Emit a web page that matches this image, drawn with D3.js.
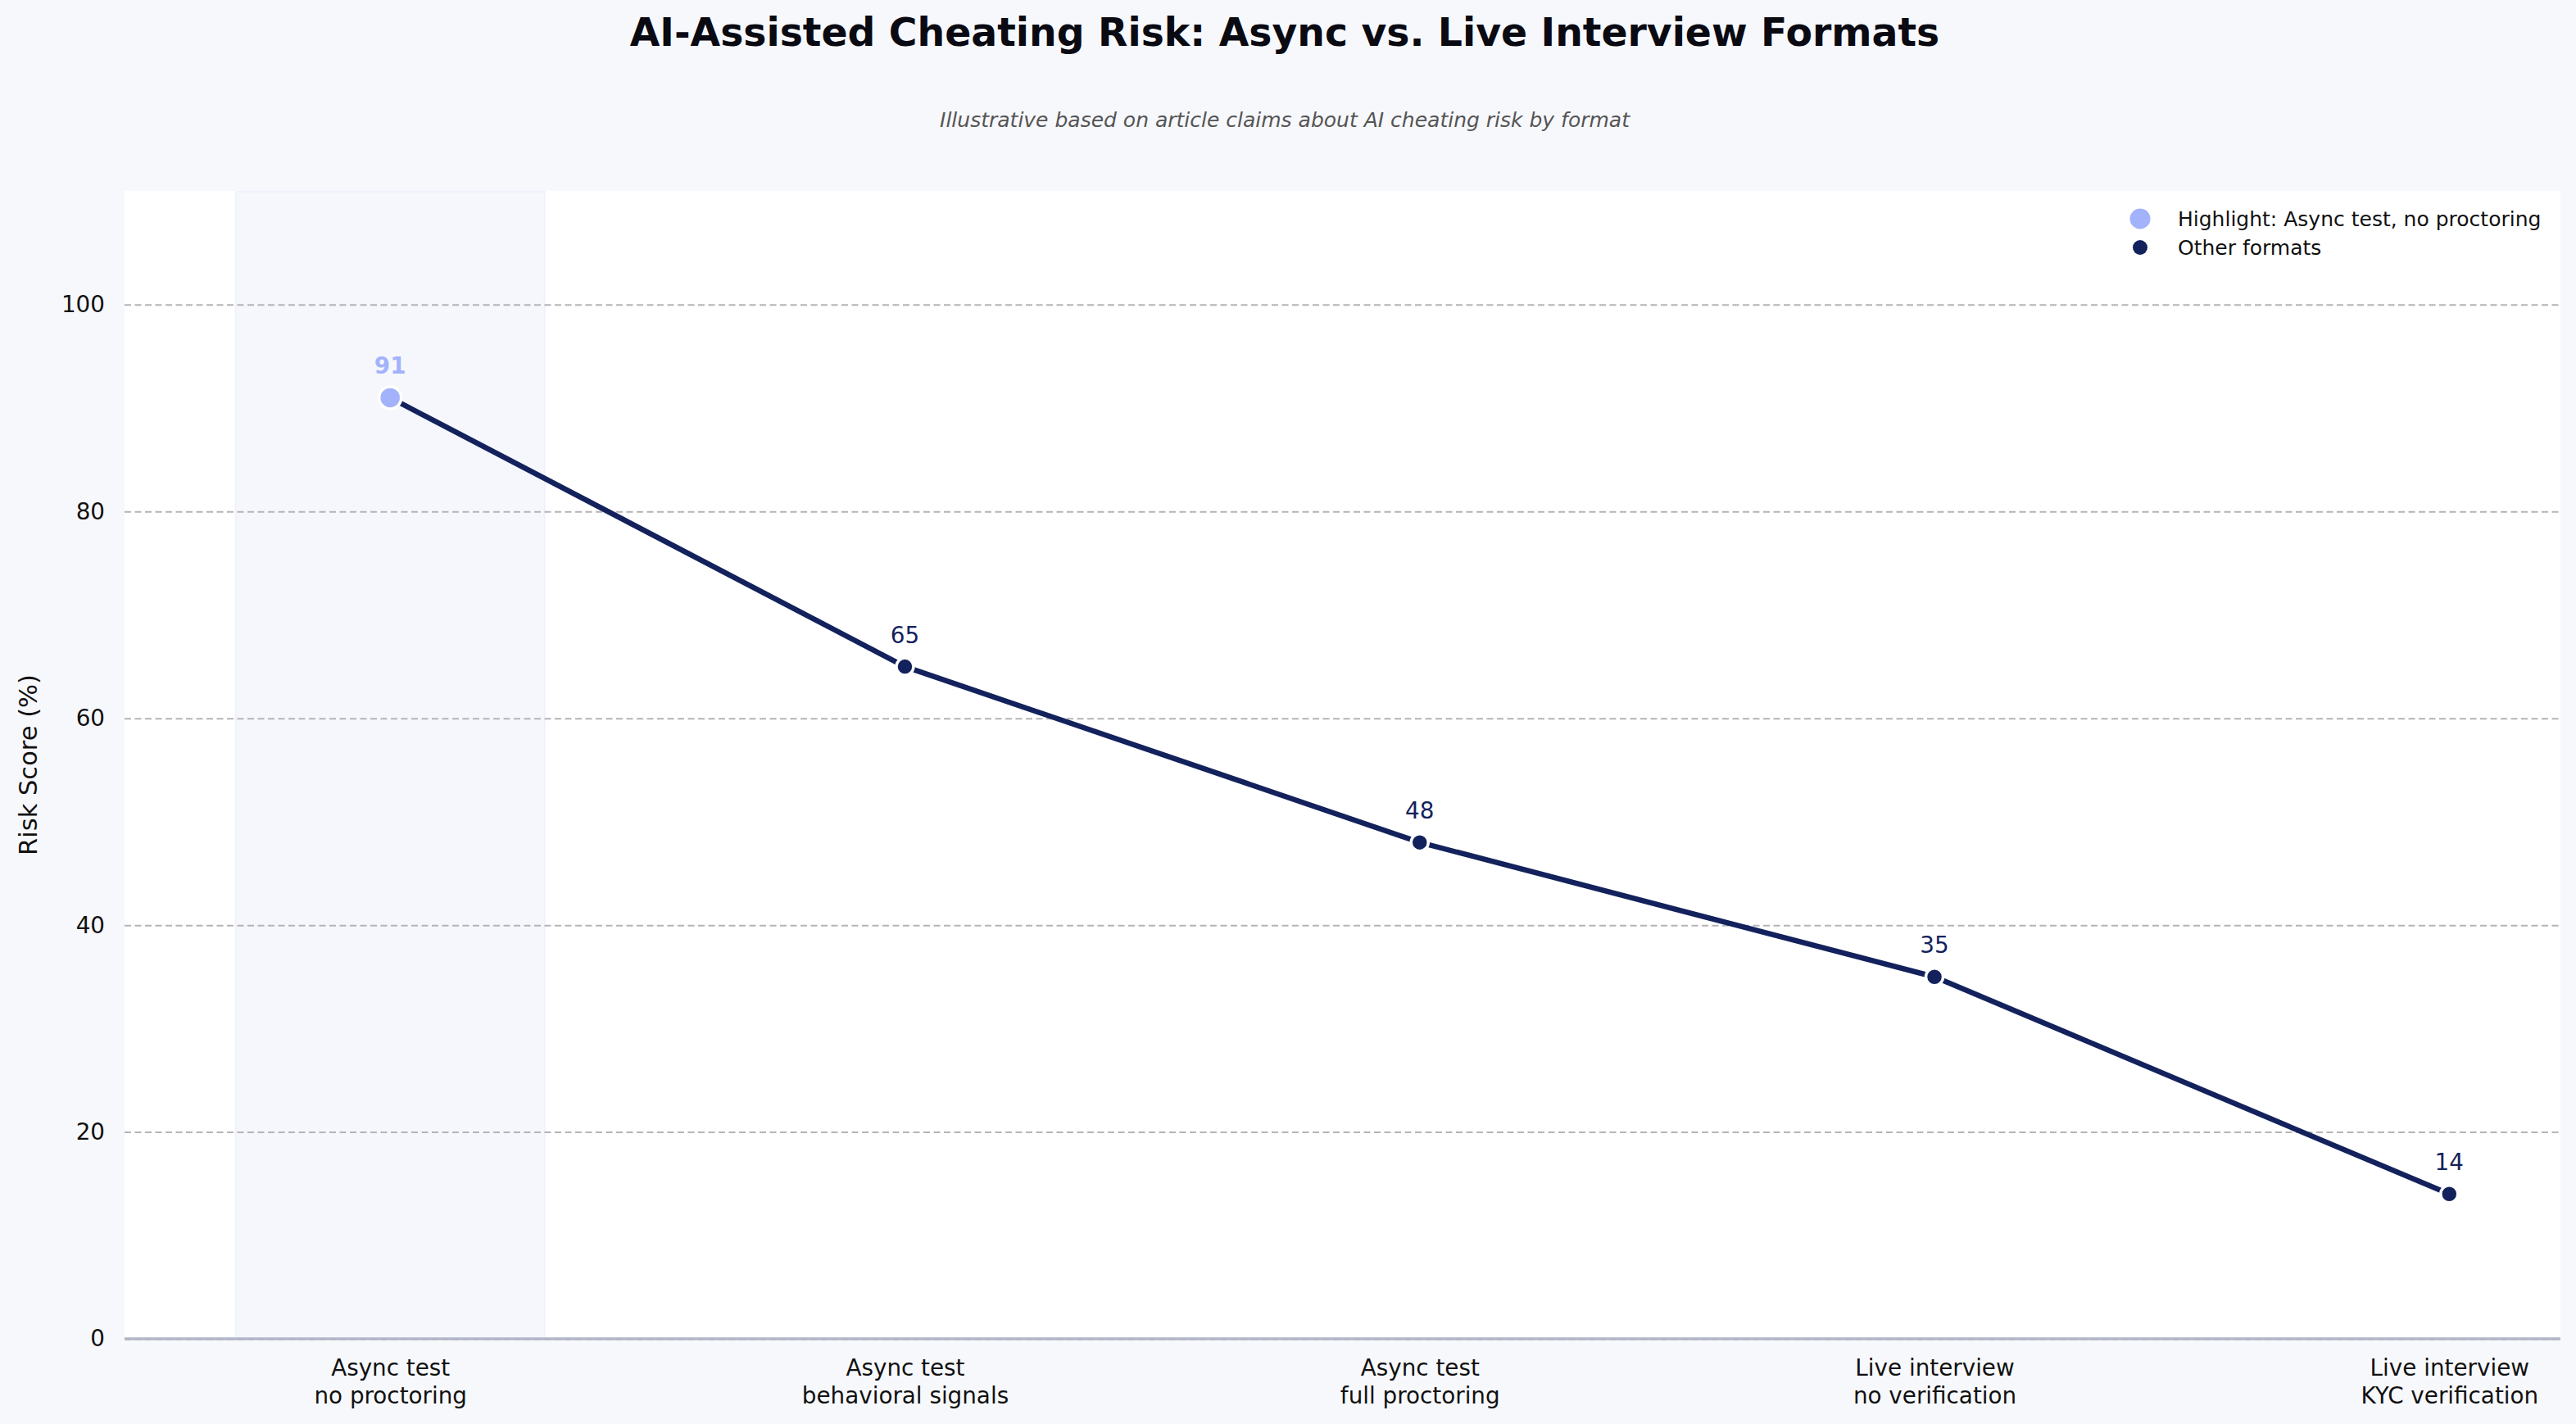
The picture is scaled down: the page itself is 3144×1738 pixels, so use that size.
<!DOCTYPE html>
<html>
<head>
<meta charset="utf-8">
<script src="https://cdn.jsdelivr.net/npm/d3@7"></script>
<style>
  body { margin: 0; background: #f7f8fc; }
  svg { display: block; font-family: "DejaVu Sans", sans-serif; }
</style>
</head>
<body>
<svg id="chart"></svg>
<script>
// data
const categories = [
  ["Async test", "no proctoring"],
  ["Async test", "behavioral signals"],
  ["Async test", "full proctoring"],
  ["Live interview", "no verification"],
  ["Live interview", "KYC verification"]
];
const riskScores = [91, 65, 48, 35, 14];
const highlightIndex = 0;
const yTicks = [0, 20, 40, 60, 80, 100];
const legendLabels = ["Highlight: Async test, no proctoring", "Other formats"];

const W = 3144, H = 1738;
const plot = { left: 152, right: 3125, top: 233, bottom: 1634 };
const navy = "#13225c", highlight = "#a2b2fb";
const font = "DejaVu Sans, sans-serif";

const svg = d3.select("#chart").attr("width", W).attr("height", H);
svg.append("rect").attr("width", W).attr("height", H).attr("fill", "#f7f8fc");

const x = d3.scaleLinear().domain([-0.516, 4.216]).range([plot.left, plot.right]);
const y = d3.scaleLinear().domain([0, 111]).range([plot.bottom, plot.top]);

// plot area
svg.append("rect")
  .attr("x", plot.left).attr("y", plot.top)
  .attr("width", plot.right - plot.left).attr("height", plot.bottom - plot.top)
  .attr("fill", "#ffffff");

// highlight band around the first category
svg.append("rect")
  .attr("x", x(highlightIndex - 0.3)).attr("y", plot.top + 1)
  .attr("width", x(highlightIndex + 0.3) - x(highlightIndex - 0.3))
  .attr("height", plot.bottom - plot.top - 1)
  .attr("fill", "#f6f7fd").attr("stroke", "#eff1fc").attr("stroke-width", 2);

// bottom spine
svg.append("line")
  .attr("x1", plot.left).attr("x2", plot.right)
  .attr("y1", y(0)).attr("y2", y(0))
  .attr("stroke", "#b2b8d0").attr("stroke-width", 3.5);

// gridlines
const grid = svg.append("g")
  .attr("transform", `translate(${plot.left},0)`)
  .call(d3.axisLeft(y).tickValues(yTicks).tickSize(-(plot.right - plot.left)).tickFormat(""));
grid.select(".domain").remove();
grid.selectAll("line")
  .attr("stroke", "#b4b4b8").attr("stroke-width", 2).attr("stroke-dasharray", "8,4.5");

// y axis labels
const yAxisG = svg.append("g")
  .attr("transform", `translate(${plot.left},0)`)
  .call(d3.axisLeft(y).tickValues(yTicks).tickSize(0).tickPadding(24))
  .attr("font-family", font).attr("font-size", 27.8);
yAxisG.select(".domain").remove();
yAxisG.selectAll("text").attr("fill", "#111");

svg.append("text")
  .attr("transform", `translate(34,${(plot.top + plot.bottom) / 2}) rotate(-90)`)
  .attr("text-anchor", "middle").attr("dominant-baseline", "central")
  .attr("font-size", 30.5).attr("fill", "#111")
  .text("Risk Score (%)");

// x axis labels (two lines each)
const xAxisG = svg.append("g")
  .attr("transform", `translate(0,${plot.bottom})`)
  .call(d3.axisBottom(x).tickValues(d3.range(categories.length)).tickSize(0).tickFormat(""))
  .attr("font-family", font).attr("font-size", 27.8);
xAxisG.select(".domain").remove();
xAxisG.selectAll(".tick text").remove();
xAxisG.selectAll(".tick").append("text")
  .attr("text-anchor", "middle").attr("fill", "#111")
  .selectAll("tspan")
  .data(i => categories[i])
  .join("tspan")
    .attr("x", 0)
    .attr("y", (d, j) => 45 + j * 34)
    .text(d => d);

// line
const pts = riskScores.map((v, i) => ({ i, v }));
svg.append("path")
  .datum(pts)
  .attr("fill", "none").attr("stroke", navy).attr("stroke-width", 6.5)
  .attr("stroke-linejoin", "round")
  .attr("d", d3.line().x(d => x(d.i)).y(d => y(d.v)));

// markers
svg.selectAll("circle.pt")
  .data(pts)
  .join("circle")
    .attr("class", "pt")
    .attr("cx", d => x(d.i)).attr("cy", d => y(d.v))
    .attr("r", d => d.i === highlightIndex ? 13.5 : 10.5)
    .attr("fill", d => d.i === highlightIndex ? highlight : navy)
    .attr("stroke", "#ffffff").attr("stroke-width", 3.5);

// value labels
svg.selectAll("text.val")
  .data(pts)
  .join("text")
    .attr("class", "val")
    .attr("x", d => x(d.i)).attr("y", d => y(d.v) - 29)
    .attr("text-anchor", "middle").attr("font-size", 27.8)
    .attr("font-weight", d => d.i === highlightIndex ? "bold" : "normal")
    .attr("fill", d => d.i === highlightIndex ? highlight : navy)
    .text(d => d.v);

// legend
const legend = svg.append("g").attr("transform", "translate(2612,267)");
const legendItems = legend.selectAll("g")
  .data(legendLabels)
  .join("g")
    .attr("transform", (d, i) => `translate(0,${i * 35})`);
legendItems.append("circle")
  .attr("r", (d, i) => i === 0 ? 12.5 : 9)
  .attr("fill", (d, i) => i === 0 ? highlight : navy);
legendItems.append("text")
  .attr("x", 46).attr("dy", "0.35em")
  .attr("font-size", 25).attr("fill", "#111")
  .text(d => d);

// titles
svg.append("text")
  .attr("x", 1568).attr("y", 56)
  .attr("text-anchor", "middle").attr("font-size", 47.3).attr("font-weight", "bold")
  .attr("fill", "#0a0a12")
  .text("AI-Assisted Cheating Risk: Async vs. Live Interview Formats");
svg.append("text")
  .attr("x", 1568).attr("y", 155)
  .attr("text-anchor", "middle").attr("font-size", 25).attr("font-style", "italic")
  .attr("fill", "#555")
  .text("Illustrative based on article claims about AI cheating risk by format");
</script>
</body>
</html>
